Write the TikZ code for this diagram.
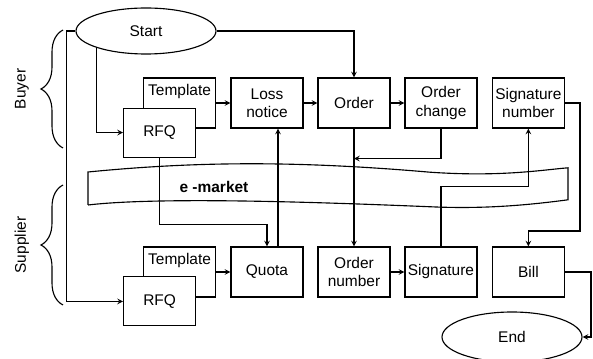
\documentclass[tikz,border=0pt]{standalone}
\usepackage{fontspec}
\setmainfont{Liberation Sans}
\usetikzlibrary{shapes.geometric,decorations.pathreplacing}
\begin{document}
\begin{tikzpicture}[font=\fontsize{11}{13}\selectfont, line width=0.8pt,
  box/.style={draw, fill=white, minimum width=1.8cm, minimum height=1.25cm,
              inner sep=1pt, align=center},
  tmpl/.style={draw, fill=white, minimum width=1.8cm, inner xsep=1pt,
               inner ysep=0.15cm, text height=0.3cm, text depth=0.65cm},
  oval/.style={draw, ellipse, fill=white, minimum width=3.5cm,
               minimum height=#1},
  link/.style={->, >=stealth},
  side/.style={decorate, decoration={brace, amplitude=0.55cm}}
]
  \useasboundingbox (0,0) rectangle (14.825,8.975);
  % e-market band
  \draw (2.2,3.85) -- (2.2,4.675)
        .. controls (5,4.95) and (7.5,4.95) .. (10.75,4.67)
        .. controls (12.5,4.55) and (13.5,4.72) .. (14.2,4.78)
        -- (14.2,3.98)
        .. controls (13,3.82) and (12,3.76) .. (10.9,3.8)
        .. controls (8,3.92) and (4,4.06) .. (2.2,3.85);
  \node[font=\bfseries\fontsize{11}{13}\selectfont] (mkt) at (5.35,4.3) {e -market};
  % buyer row
  \node[oval=1.15cm] (start) at (3.65,8.2) {Start};
  \node[tmpl] (tmpB) at (4.49,6.4) {Template};
  \node[box, minimum height=1.225cm] (rfqB) at (3.99,5.66) {RFQ};
  \node[box] (loss) at (6.675,6.4) {Loss\\notice};
  \node[box] (order) at (8.85,6.4) {Order};
  \node[box] (chg) at (11.025,6.4) {Order\\change};
  \node[box] (signum) at (13.21,6.4) {Signature\\number};
  % supplier row
  \node[tmpl] (tmpS) at (4.49,2.175) {Template};
  \node[box, minimum height=1.225cm] (rfqS) at (3.99,1.44) {RFQ};
  \node[box] (quota) at (6.675,2.175) {Quota};
  \node[box] (onum) at (8.85,2.175) {Order\\number};
  \node[box] (sig) at (11.025,2.175) {Signature};
  \node[box] (bill) at (13.21,2.175) {Bill};
  \node[oval=1.25cm] (endn) at (12.8,0.55) {End};
  % sides
  \draw[side] (1.575,5.275) -- (1.575,8.225);
  \draw[side] (1.575,1.35) -- (1.575,4.35);
  \node[rotate=90] (buyer) at (0.55,6.75) {Buyer};
  \node[rotate=90] (supp) at (0.55,2.85) {Supplier};
  % connectors
  \draw[link] (start.east) -| (order.north);
  \draw[link] (start.west) -- ++(-0.225,0) |- (rfqS.west);
  \draw[link] (start.south west) |- (rfqB.west);
  \draw[link] (tmpB.east) -- (loss.west);
  \draw[link] (loss) -- (order);
  \draw[link] (order) -- (chg);
  \draw[link] (chg.south) |- ([yshift=-0.75cm]order.south);
  \draw[link] (order) -- (onum);
  \draw[link] (rfqB.south) -- ++(0,-1.675) -| (quota.north);
  \draw[link] ([xshift=0.275cm]quota.north) -- ([xshift=0.275cm]loss.south);
  \draw[link] (tmpS.east) -- (quota.west);
  \draw[link] (onum) -- (sig);
  \draw[link] (sig.north) -- ++(0,1.5) -| (signum.south);
  \draw[link] (signum.east) -| ++(0.375,-3.2) -| (bill.north);
  \draw[link] (bill.east) -- ++(0.65,0) |- (endn.east);
\end{tikzpicture}
\end{document}
